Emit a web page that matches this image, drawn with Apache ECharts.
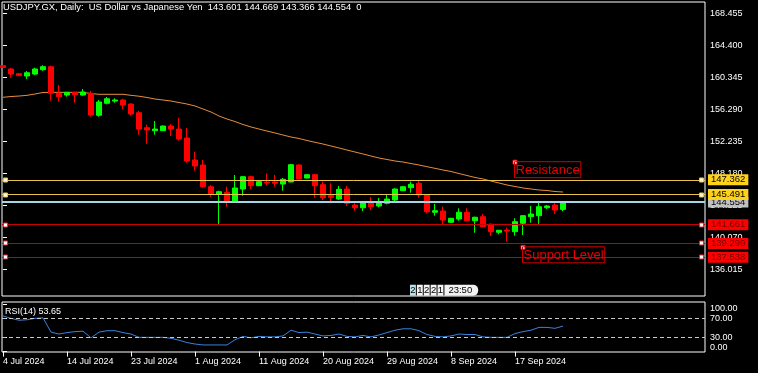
<!DOCTYPE html>
<html><head><meta charset="utf-8">
<script src="https://cdn.jsdelivr.net/npm/echarts@6/dist/echarts.min.js"></script>
<style>html,body{margin:0;padding:0;background:#000;}#c{width:758px;height:373px;}</style>
</head><body><div id="c"></div>
<script>
const symbolName = 'USDJPY.GX';
const periodName = 'Daily';
const description = 'US Dollar vs Japanese Yen';
const dates = [
 '4 Jul 2024','5 Jul 2024','7 Jul 2024','8 Jul 2024','9 Jul 2024','10 Jul 2024','11 Jul 2024','12 Jul 2024',
 '14 Jul 2024','15 Jul 2024','16 Jul 2024','17 Jul 2024','18 Jul 2024','19 Jul 2024','21 Jul 2024','22 Jul 2024',
 '23 Jul 2024','24 Jul 2024','25 Jul 2024','26 Jul 2024','28 Jul 2024','29 Jul 2024','30 Jul 2024','31 Jul 2024',
 '1 Aug 2024','2 Aug 2024','4 Aug 2024','5 Aug 2024','6 Aug 2024','7 Aug 2024','8 Aug 2024','9 Aug 2024',
 '11 Aug 2024','12 Aug 2024','13 Aug 2024','14 Aug 2024','15 Aug 2024','16 Aug 2024','18 Aug 2024','19 Aug 2024',
 '20 Aug 2024','21 Aug 2024','22 Aug 2024','23 Aug 2024','25 Aug 2024','26 Aug 2024','27 Aug 2024','28 Aug 2024',
 '29 Aug 2024','30 Aug 2024','1 Sep 2024','2 Sep 2024','3 Sep 2024','4 Sep 2024','5 Sep 2024','6 Sep 2024',
 '8 Sep 2024','9 Sep 2024','10 Sep 2024','11 Sep 2024','12 Sep 2024','13 Sep 2024','15 Sep 2024','16 Sep 2024',
 '17 Sep 2024','18 Sep 2024','19 Sep 2024','20 Sep 2024','22 Sep 2024','23 Sep 2024','24 Sep 2024'
];
const open = [161.82,161.40,160.80,160.51,160.76,161.31,161.69,158.32,158.10,158.44,
 158.10,158.32,155.53,157.05,157.34,157.47,156.96,155.86,153.96,153.58,
 153.58,154.17,153.79,152.65,149.87,149.23,146.48,145.56,145.77,144.67,
 146.19,147.75,146.61,147.04,147.08,146.82,147.08,149.23,147.58,148.00,
 146.74,145.34,144.92,146.19,144.16,143.82,144.54,144.04,144.38,144.80,
 145.98,146.36,146.91,145.43,143.24,143.40,141.97,142.39,143.24,142.17,
 142.68,141.72,140.70,140.99,140.78,141.85,142.68,142.81,143.82,144.16,143.601];
const high = [161.90,161.52,160.89,161.14,161.56,161.87,161.82,159.37,158.48,158.48,
 158.86,158.61,157.47,157.85,157.68,157.63,157.05,156.08,154.34,154.81,
 154.24,154.43,155.19,153.92,150.92,149.87,146.70,145.98,146.48,147.96,
 147.84,147.88,147.20,148.18,147.96,147.59,149.36,149.32,148.05,148.09,
 147.12,146.91,146.57,146.57,144.45,144.67,145.18,145.05,145.43,146.28,
 146.57,147.12,147.24,145.52,144.29,143.95,142.53,143.74,143.74,142.68,
 143.02,141.85,141.00,141.29,142.48,142.85,144.04,144.50,144.16,144.58,144.669];
const low = [161.50,160.29,160.51,160.13,160.64,161.18,157.38,157.25,157.89,157.13,
 158.01,155.35,155.35,156.92,157.13,156.29,155.48,153.07,151.93,153.07,
 153.54,152.91,152.31,149.52,148.51,146.35,145.21,141.70,143.95,144.45,
 145.34,146.19,146.55,146.61,146.48,145.98,147.04,147.42,147.54,145.09,
 144.80,144.38,144.80,144.04,143.44,143.40,143.53,143.87,144.25,144.67,
 145.94,145.72,145.09,143.11,142.81,141.76,141.91,142.17,142.10,140.65,
 141.34,140.23,140.45,139.51,140.27,140.36,141.92,141.76,143.66,143.02,143.366];
const close = [161.60,160.76,160.55,160.93,161.40,161.69,158.32,157.89,158.44,158.14,
 158.48,155.57,157.22,157.63,157.47,156.84,155.69,153.79,153.67,153.79,
 154.17,153.79,152.53,149.74,149.11,146.48,145.56,145.85,144.71,146.32,
 147.75,146.61,147.12,146.95,146.91,147.42,149.27,147.46,148.00,146.61,
 145.09,145.14,146.15,144.38,143.82,144.54,143.95,144.54,144.92,146.19,
 146.48,146.79,145.43,143.31,143.44,142.26,142.48,143.24,142.17,142.61,
 141.41,140.78,140.96,140.87,142.05,142.81,143.02,143.95,144.04,143.53,144.554];
const movingAverage = [157.81,157.91,157.97,158.06,158.23,158.42,158.44,158.44,158.44,158.44,
 158.44,158.29,158.19,158.19,158.19,158.19,158.06,157.95,157.79,157.59,
 157.47,157.34,157.15,156.96,156.71,156.33,155.95,155.44,155.06,154.74,
 154.36,154.05,153.79,153.54,153.29,153.03,152.78,152.59,152.34,152.11,
 151.89,151.64,151.39,151.13,150.88,150.63,150.37,150.12,149.93,149.74,
 149.61,149.42,149.23,149.02,148.81,148.60,148.41,148.15,147.90,147.65,
 147.46,147.20,146.95,146.70,146.51,146.32,146.19,146.06,146.00,145.87,145.81];
const rsi = [75,70,66,67,70,71,41,37,40,42,
 43,29,41,44,44,40,37,30,30,30,
 30,28,24,19,16,14,14,14,14,25,
 32,29,32,31,31,33,45,40,41,37,
 33,34,37,32,31,34,31,35,40,45,
 48,48,44,36,32,31,33,37,36,36,
 31,30,30,30,38,42,45,51,51,49,53.65];
const priceTicks = [136.015,140.070,144.125,148.180,152.235,156.290,160.345,164.400,168.455];
const rsiTicks = [0,30,70,100];
const rsiLevels = [70,30];
const dateTicks = ['4 Jul 2024','14 Jul 2024','23 Jul 2024','1 Aug 2024','11 Aug 2024','20 Aug 2024','29 Aug 2024','8 Sep 2024','17 Sep 2024'];
const bidPrice = 144.554;
const resistanceLevels = [147.362,145.491];
const supportLevels = [141.661,139.299,137.538];
const notes = [{text:'Resistance', date:'17 Sep 2024', price:149.59},{text:'Support Level', date:'18 Sep 2024', price:138.80}];
const barTimer = ['2','1','2','2','1','23:50'];

const FONT = '"Liberation Sans", Arial, sans-serif';
const tickIdx = dateTicks.map(d => dates.indexOf(d));
const chart = echarts.init(document.getElementById('c'));
const xMin = -0.125, xMax = 87.75;

const option = {
  backgroundColor:'#000',
  animation:false,
  grid:[
    {left:2, top:2, width:703, height:294, show:true, borderColor:'#fff', borderWidth:1, backgroundColor:'#000'},
    {left:2, top:302, width:703, height:50, show:true, borderColor:'#fff', borderWidth:1, backgroundColor:'#000'}
  ],
  xAxis:[
    {type:'value', gridIndex:0, min:xMin, max:xMax, show:false},
    {type:'value', gridIndex:1, min:xMin, max:xMax, splitLine:{show:false}, axisLine:{show:false},
     axisTick:{show:true, length:5, lineStyle:{color:'#fff'}, customValues:tickIdx},
     axisLabel:{show:true, customValues:tickIdx, formatter:v => dates[Math.round(v)], color:'#fff', fontSize:9, fontFamily:FONT, align:'left', margin:5}}
  ],
  yAxis:[
    {type:'value', gridIndex:0, position:'right', min:132.631, max:169.888, splitLine:{show:false}, axisLine:{show:false},
     axisTick:{show:true, length:4, lineStyle:{color:'#fff'}, customValues:priceTicks},
     axisLabel:{customValues:priceTicks, formatter:v => v.toFixed(3), color:'#fff', fontSize:9, fontFamily:FONT, margin:5}},
    {type:'value', gridIndex:1, position:'right', min:-0.84, max:104.42, splitLine:{show:false}, axisLine:{show:false},
     axisTick:{show:true, length:4, lineStyle:{color:'#fff'}, customValues:rsiTicks},
     axisLabel:{customValues:rsiTicks, color:'#fff', fontSize:9, fontFamily:FONT, margin:5,
       formatter:v => v === 100 ? '{d|' + v.toFixed(2) + '}' : (v === 0 ? '{u|' + v.toFixed(2) + '}' : v.toFixed(2)),
       rich:{d:{color:'#fff', fontSize:9, fontFamily:FONT, padding:[8,0,0,0]}, u:{color:'#fff', fontSize:9, fontFamily:FONT, padding:[0,0,9,0]}}}}
  ],
  series:[
    {type:'line', name:'MA', xAxisIndex:0, yAxisIndex:0, data:dates.map((d,i)=>[i, movingAverage[i]]), symbol:'none',
     lineStyle:{color:'#e88c3c', width:1}, silent:true, z:1,
     markPoint:{silent:true, animation:false, symbol:'rect', symbolSize:4,
       itemStyle:{color:'#fff', borderColor:'#ff0000', borderWidth:1},
       label:{show:true, position:[2,2], align:'left', verticalAlign:'top', formatter:'{b}', color:'#e80000', fontSize:13, fontFamily:FONT,
         borderColor:'#d00000', borderWidth:1, padding:[1,1,0,1], lineHeight:15},
       data:notes.map(n => ({name:n.text, coord:[dates.indexOf(n.date), n.price]}))}},
    {type:'candlestick', name:'USDJPY', xAxisIndex:0, yAxisIndex:0, barWidth:5, silent:true, z:2,
     data:dates.map((d,i)=>[i, open[i], close[i], low[i], high[i]]),
     itemStyle:{color:'#00ff00', color0:'#ff0000', borderColor:'#00ff00', borderColor0:'#ff0000', borderWidth:1},
     markLine:{silent:true, animation:false, symbol:['none','none'], precision:3,
       label:{show:true, position:'end', distance:3, formatter:p => Number(p.value).toFixed(3), fontSize:9.5, fontFamily:FONT, padding:[1,3,0,3], lineHeight:10},
       data:[
         {yAxis:bidPrice, lineStyle:{color:'#a3d6e2', width:2, type:'solid'}, label:{backgroundColor:'#c0c0c0', color:'#000'}},
         ...resistanceLevels.map(v => ({yAxis:v, lineStyle:{color:'#e8c44c', width:1, type:'solid'}, label:{backgroundColor:'#ffd21a', color:'#000'}})),
         ...supportLevels.map(v => ({yAxis:v, lineStyle:{color:'#c80000', width:1, type:'solid'}, label:{backgroundColor:'#ff0000', color:'#700000'}}))
       ]}},
    {type:'line', name:'RSI(14)', xAxisIndex:1, yAxisIndex:1, data:dates.map((d,i)=>[i, rsi[i]]), symbol:'none', silent:true,
     lineStyle:{color:'#3a82dc', width:1},
     markLine:{silent:true, animation:false, symbol:['none','none'], label:{show:false},
       lineStyle:{color:'#c8c8c8', type:[4,3], width:1}, data:rsiLevels.map(v => ({yAxis:v}))}}
  ]
};
chart.setOption(option);

const lastI = close.length - 1;
const titleText = symbolName + ', ' + periodName + ':  ' + description + '  ' +
  [open[lastI], high[lastI], low[lastI], close[lastI]].map(v => v.toFixed(3)).join(' ') + '  0';
const graphics = [
  {type:'text', x:3, y:7.5, z:100, style:{text:titleText, fill:'#fff', font:'9.4px ' + FONT, verticalAlign:'middle'}},
  {type:'text', x:5, y:312, z:100, style:{text:'RSI(14) ' + rsi[lastI].toFixed(2), fill:'#fff', font:'9px ' + FONT, verticalAlign:'middle'}}
];
// bar timer box
const richCell = (bg) => ({fill:'#000', backgroundColor:bg, padding:[1,0.3,0,0.3], fontSize:9.5, fontFamily:FONT, lineHeight:10.5});
let timerText = '';
barTimer.forEach((t, k) => {
  const key = k === 0 ? 'c' : (k === barTimer.length - 1 ? 't' : 'w');
  timerText += '{' + key + '|' + t + '}' + (k < barTimer.length - 1 ? '{g| }' : '');
});
graphics.push({type:'text', x:410, y:285, z:100, style:{text:timerText, verticalAlign:'top',
  rich:{c:richCell('#b9e2e8'), w:richCell('#f2f2f2'),
        t:Object.assign(richCell('#f2f2f2'), {padding:[1,6,0,4], borderRadius:[0,5,5,0]}),
        g:{width:1, fontSize:9.5, lineHeight:10.5}}}});
// line handles
const gridRect = {left:2, right:705};
[...resistanceLevels.map(v => [v, '#e8c44c', '#fffbe0']), ...supportLevels.map(v => [v, '#ff2020', '#ffffff'])].forEach(([v, stroke, fill]) => {
  const y = chart.convertToPixel({yAxisIndex:0}, v);
  [gridRect.left + 1.5, gridRect.right - 5.5].forEach(x => {
    graphics.push({type:'rect', z:100, shape:{x:x, y:Math.round(y) - 2, width:4, height:4}, style:{fill:fill, stroke:stroke, lineWidth:1}});
  });
});
chart.setOption({graphic:graphics});
</script></body></html>
